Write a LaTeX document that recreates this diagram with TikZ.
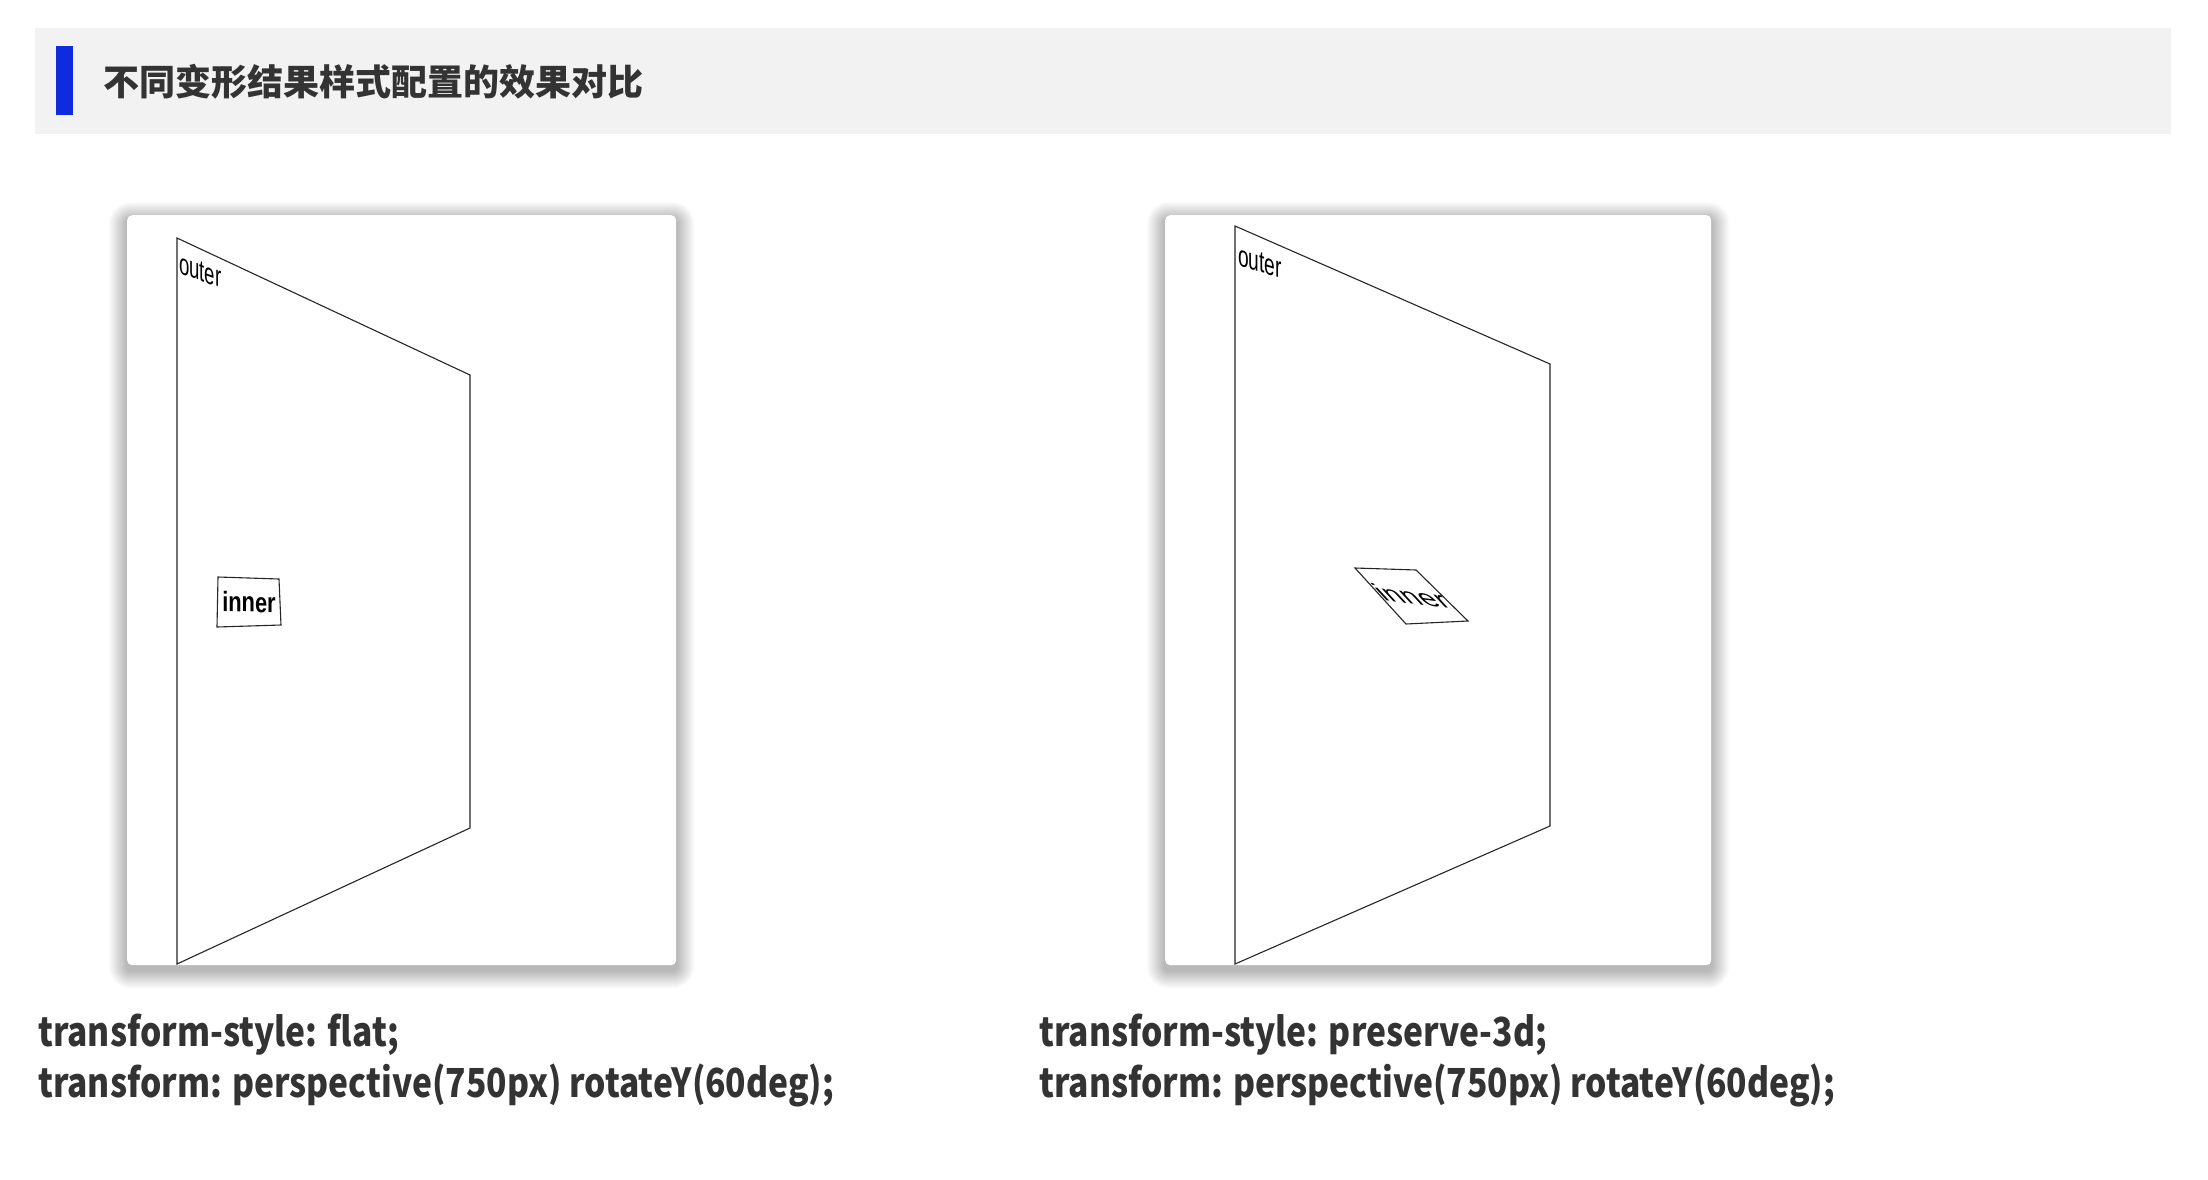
\documentclass[tikz,border=0pt]{standalone}
\usepackage{fontspec}
\setmainfont{Liberation Sans}
\newfontfamily\cjk{Noto Sans CJK SC}
\usepackage{tikz}
\usetikzlibrary{positioning,calc,backgrounds}
\definecolor{headgray}{HTML}{F2F2F2}
\definecolor{barblue}{HTML}{0F2BE0}
\definecolor{txtdark}{HTML}{333333}
\tikzset{
  card/.style={draw=none,fill=white,rounded corners=5pt,anchor=north west,
               inner sep=0pt},
  haze/.style={fill=black,opacity=0.014},
  plane/.style={draw=black!85,line width=1.1pt,line join=miter},
  lbl/.style={font=\fontsize{30}{30}\selectfont,inner sep=0pt,text=black},
  cssline/.style={font=\cjk\bfseries\fontsize{40}{40}\selectfont,text=txtdark,
                  anchor=base west,inner sep=0pt,xscale=0.84},
}

\begin{document}
\begin{tikzpicture}[x=1pt,y=-1pt]
\useasboundingbox (0,0) rectangle (2208,1180);

% heading band
\fill[headgray] (35,28) rectangle (2171,134);
\fill[barblue] (56,46) rectangle (73,115);
\node[anchor=west,inner sep=0pt,text=txtdark,
      font=\cjk\bfseries\fontsize{36}{36}\selectfont] (title) at (103,82)
  {不同变形结果样式配置的效果对比};

% cards
\node[card,minimum width=549pt,minimum height=750pt] (flatcard) at (127,215) {};
\node[card,minimum width=546pt,minimum height=750pt] (p3dcard) at (1165,215) {};

\begin{scope}[on background layer]
  \fill[white] (0,0) rectangle (2208,1180);
  \foreach \c in {flatcard,p3dcard}
    \foreach \k in {1,...,18}
      \fill[haze,rounded corners=\k pt+4pt]
        ($(\c.north west)+(-\k,-\k+5)$) rectangle ($(\c.south east)+(\k,\k+5)$);
\end{scope}

% flat: outer plane
\coordinate (fA) at (177,238);
\coordinate (fB) at (470,375);
\coordinate (fC) at (470,828);
\coordinate (fD) at (177,964);
\draw[plane] (fA) -- (fB) -- (fC) -- (fD) -- cycle;
\node[lbl,anchor=base west,cm={0.62,-0.22,0,1,(0,0)}] (fouter) at (179,273) {outer};

% flat: inner box
\draw[plane] (218,577) -- (279,579) -- (281,625) -- (217,627) -- cycle;
\node[lbl,font=\bfseries\fontsize{28}{28}\selectfont,cm={0.78,-0.02,0,1,(0,0)}]
  (finner) at (249,602) {inner};

% preserve-3d: outer plane
\coordinate (pA) at (1235,226);
\coordinate (pB) at (1550,364);
\coordinate (pC) at (1550,826);
\coordinate (pD) at (1235,964);
\draw[plane] (pA) -- (pB) -- (pC) -- (pD) -- cycle;
\node[lbl,anchor=base west,cm={0.64,-0.2,0,1,(0,0)}] (pouter) at (1238,265) {outer};

% preserve-3d: inner box
\draw[plane] (1355,568) -- (1416,570) -- (1468,621) -- (1406,624) -- cycle;
\node[lbl,font=\fontsize{31}{31}\selectfont,cm={1.0,-0.13,-0.72,0.78,(0,0)}]
  (pinner) at (1411,596) {inner};

% captions
\node[cssline] (fcss1) at (38,1046) {transform-style: flat;};
\node[cssline] (fcss2) at (38,1097) {transform: perspective(750px) rotateY(60deg);};
\node[cssline] (pcss1) at (1039,1046) {transform-style: preserve-3d;};
\node[cssline] (pcss2) at (1039,1097) {transform: perspective(750px) rotateY(60deg);};
\end{tikzpicture}
\end{document}
